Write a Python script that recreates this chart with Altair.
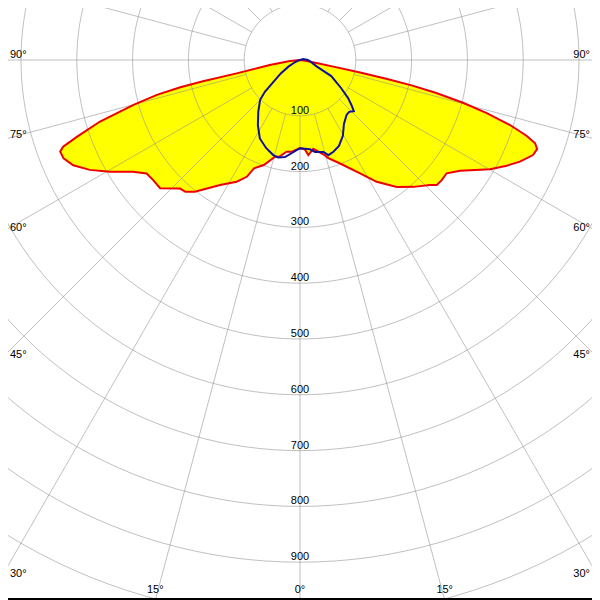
import numpy as np
import pandas as pd
import altair as alt

# ---------------- data ----------------
# C0-C180 plane (red outline, yellow fill); gamma in degrees from nadir, intensity cd/klm
c180_gamma = [0, 5, 8.3, 12, 14.5, 19, 23, 24.5, 27.5, 32.6, 38.6, 41, 43, 47.5, 50.7, 53.5,
              56.2, 59.5, 62.4, 65.1, 67.4, 69.1, 69.9, 71, 72.9, 74.9, 76.3, 77.2, 77.6,
              78.1, 80.5, 84.3, 90]
c180_val = [158, 165, 166, 177, 179, 199, 211, 230, 246, 266, 302, 313, 315, 340, 340, 342,
            360, 395, 425, 448, 459, 460, 452, 423, 375, 309, 264, 220, 178,
            116, 55, 18, 0]
c0_gamma = [0, 3, 5, 8.5, 13.9, 16.1, 21.2, 27.9, 32.2, 37.3, 41.8, 46.1, 47.6, 49.7, 52.3,
            55.3, 60.1, 62.9, 65.2, 67.8, 69.4, 70.5, 71.5, 72.8, 74.1, 75.3, 76.4, 77.2,
            77.7, 78.2, 78.8, 79.6, 81, 90]
c0_val = [158, 160, 171, 161, 174, 183, 199, 230, 258, 286, 305, 323, 332, 333, 332,
          349, 393, 416, 434, 451, 454, 447, 428, 394, 348, 302, 250, 205,
          160, 110, 61, 30, 10, 0]

# C90-C270 plane (blue outline)
c270_gamma = [0, 8.8, 12.7, 15.7, 21.1, 27.1, 32.9, 38.9, 45, 47.8, 51.3, 55, 60.2, 66, 75, 90]
c270_val = [158, 176, 179, 177, 169, 158, 139, 119, 101, 85, 57, 42, 24, 10, 3, 0]
c90_gamma = [0, 6.4, 9.3, 14.3, 16.6, 20, 24.4, 29.5, 34.5, 40.3, 43.5, 46.5, 48.5, 51.6, 55.7,
             62.7, 69.4, 80, 90, 105, 130]
c90_val = [158, 161, 167, 170, 178, 175, 169, 156, 139, 129, 128, 133, 124, 110, 89,
           63, 31, 20, 14, 6, 0]

circle_values = [100, 200, 300, 400, 500, 600, 700, 800, 900, 1000, 1100]
radial_labels = [100, 200, 300, 400, 500, 600, 700, 800, 900]
spoke_angles = list(range(0, 360, 15))
side_label_angles = [30, 45, 60, 75, 90]
bottom_label_angles = [0, 15]

# ---------------- layout ----------------
W, H = 584, 592
OFF = 8
CX, CY = 300.0, 60.0      # pole position on the page
K = 0.558                 # pixels per cd/klm
x_dom = [(OFF - CX) / K, (OFF + W - CX) / K]
y_dom = [(CY - OFF - H) / K, (CY - OFF) / K]
xs = alt.Scale(domain=x_dom, nice=False, zero=False)
ys = alt.Scale(domain=y_dom, nice=False, zero=False)


def curve_df(lg, lv, rg, rv):
    a = [-g for g in reversed(lg)] + list(rg[1:])
    v = list(reversed(lv)) + list(rv[1:])
    return pd.DataFrame({"o": range(len(a)), "a": a, "v": v})


red_df = curve_df(c180_gamma, c180_val, c0_gamma, c0_val)
blue_df = curve_df(c270_gamma, c270_val, c90_gamma, c90_val)

polar_calc = dict(px="datum.v*sin(datum.a*PI/180)", py="-datum.v*cos(datum.a*PI/180)")
X = alt.X("px:Q", scale=xs, axis=None)
Y = alt.Y("py:Q", scale=ys, axis=None)

fill = alt.Chart(red_df).mark_line(fill="#ffff00", stroke="#ffff00", strokeWidth=0.5, clip=True).transform_calculate(
    **polar_calc).encode(x=X, y=Y, order="o:Q")

red = alt.Chart(red_df).mark_line(color="#ee0000", strokeWidth=2, clip=True).transform_calculate(
    **polar_calc).encode(x=X, y=Y, order="o:Q")

blue = alt.Chart(blue_df).mark_line(color="#10109a", strokeWidth=2, clip=True).transform_calculate(
    **polar_calc).encode(x=X, y=Y, order="o:Q")

# grid circles
tt = list(range(0, 361, 2))
circ_df = pd.DataFrame([(r, t) for r in circle_values for t in tt], columns=["v", "a"])
circles = alt.Chart(circ_df).mark_line(color="#8c8c8c", opacity=0.55, strokeWidth=1, clip=True).transform_calculate(
    **polar_calc).encode(x=X, y=Y, detail="v:N", order="a:Q")

spoke_df = pd.DataFrame({"a": spoke_angles})
spokes = alt.Chart(spoke_df).mark_rule(color="#8c8c8c", opacity=0.55, strokeWidth=1, clip=True).transform_calculate(
    x0="100*sin(datum.a*PI/180)", y0="-100*cos(datum.a*PI/180)",
    x1="1400*sin(datum.a*PI/180)", y1="-1400*cos(datum.a*PI/180)").encode(
    x=alt.X("x0:Q", scale=xs, axis=None), y=alt.Y("y0:Q", scale=ys, axis=None),
    x2="x1:Q", y2="y1:Q")

FONT = "Liberation Sans"
FS = 11

rl_df = pd.DataFrame({"t": [str(v) for v in radial_labels], "px": 0.0,
                      "py": [-float(v) for v in radial_labels]})
rlabels = alt.Chart(rl_df).mark_text(font=FONT, fontSize=FS, align="center", baseline="alphabetic",
                                     dy=-2, color="black").encode(x=X, y=Y, text="t:N")

side_y = [-(300.0 / np.tan(np.radians(g)) if g < 90 else 0.0) / K for g in side_label_angles]
left_df = pd.DataFrame({"t": [f"{g}°" for g in side_label_angles],
                        "px": (10 - CX) / K, "py": side_y})
right_df = pd.DataFrame({"t": [f"{g}°" for g in side_label_angles],
                         "px": (590 - CX) / K, "py": side_y})
llabels = alt.Chart(left_df).mark_text(font=FONT, fontSize=FS, align="left", baseline="alphabetic",
                                       dy=-2.5, color="black").encode(x=X, y=Y, text="t:N")
rlabels2 = alt.Chart(right_df).mark_text(font=FONT, fontSize=FS, align="right", baseline="alphabetic",
                                         dy=-2.5, color="black").encode(x=X, y=Y, text="t:N")

bx, bt = [], []
for g in bottom_label_angles:
    d = 540.0 * np.tan(np.radians(g)) / K
    if g == 0:
        bx.append(0.0); bt.append(f"{g}°")
    else:
        bx += [-d, d]; bt += [f"{g}°", f"{g}°"]
bottom_df = pd.DataFrame({"t": bt, "px": bx, "py": (CY - 592.5) / K})
blabels = alt.Chart(bottom_df).mark_text(font=FONT, fontSize=FS, align="center", baseline="alphabetic",
                                         color="black").encode(x=X, y=Y, text="t:N")

bottom_border = alt.Chart(pd.DataFrame({"k": [0]})).mark_rule(color="black", strokeWidth=2).encode(
    x=alt.value(0), x2=alt.value(W), y=alt.value(H - 1))

chart = alt.layer(fill, circles, spokes, red, blue, rlabels, llabels, rlabels2, blabels,
                  bottom_border).properties(
    width=W, height=H, autosize=alt.AutoSizeParams(type="none"), padding=0
).configure_view(stroke=None)

chart.save("out.html", embed_options={"renderer": "svg", "actions": False})
